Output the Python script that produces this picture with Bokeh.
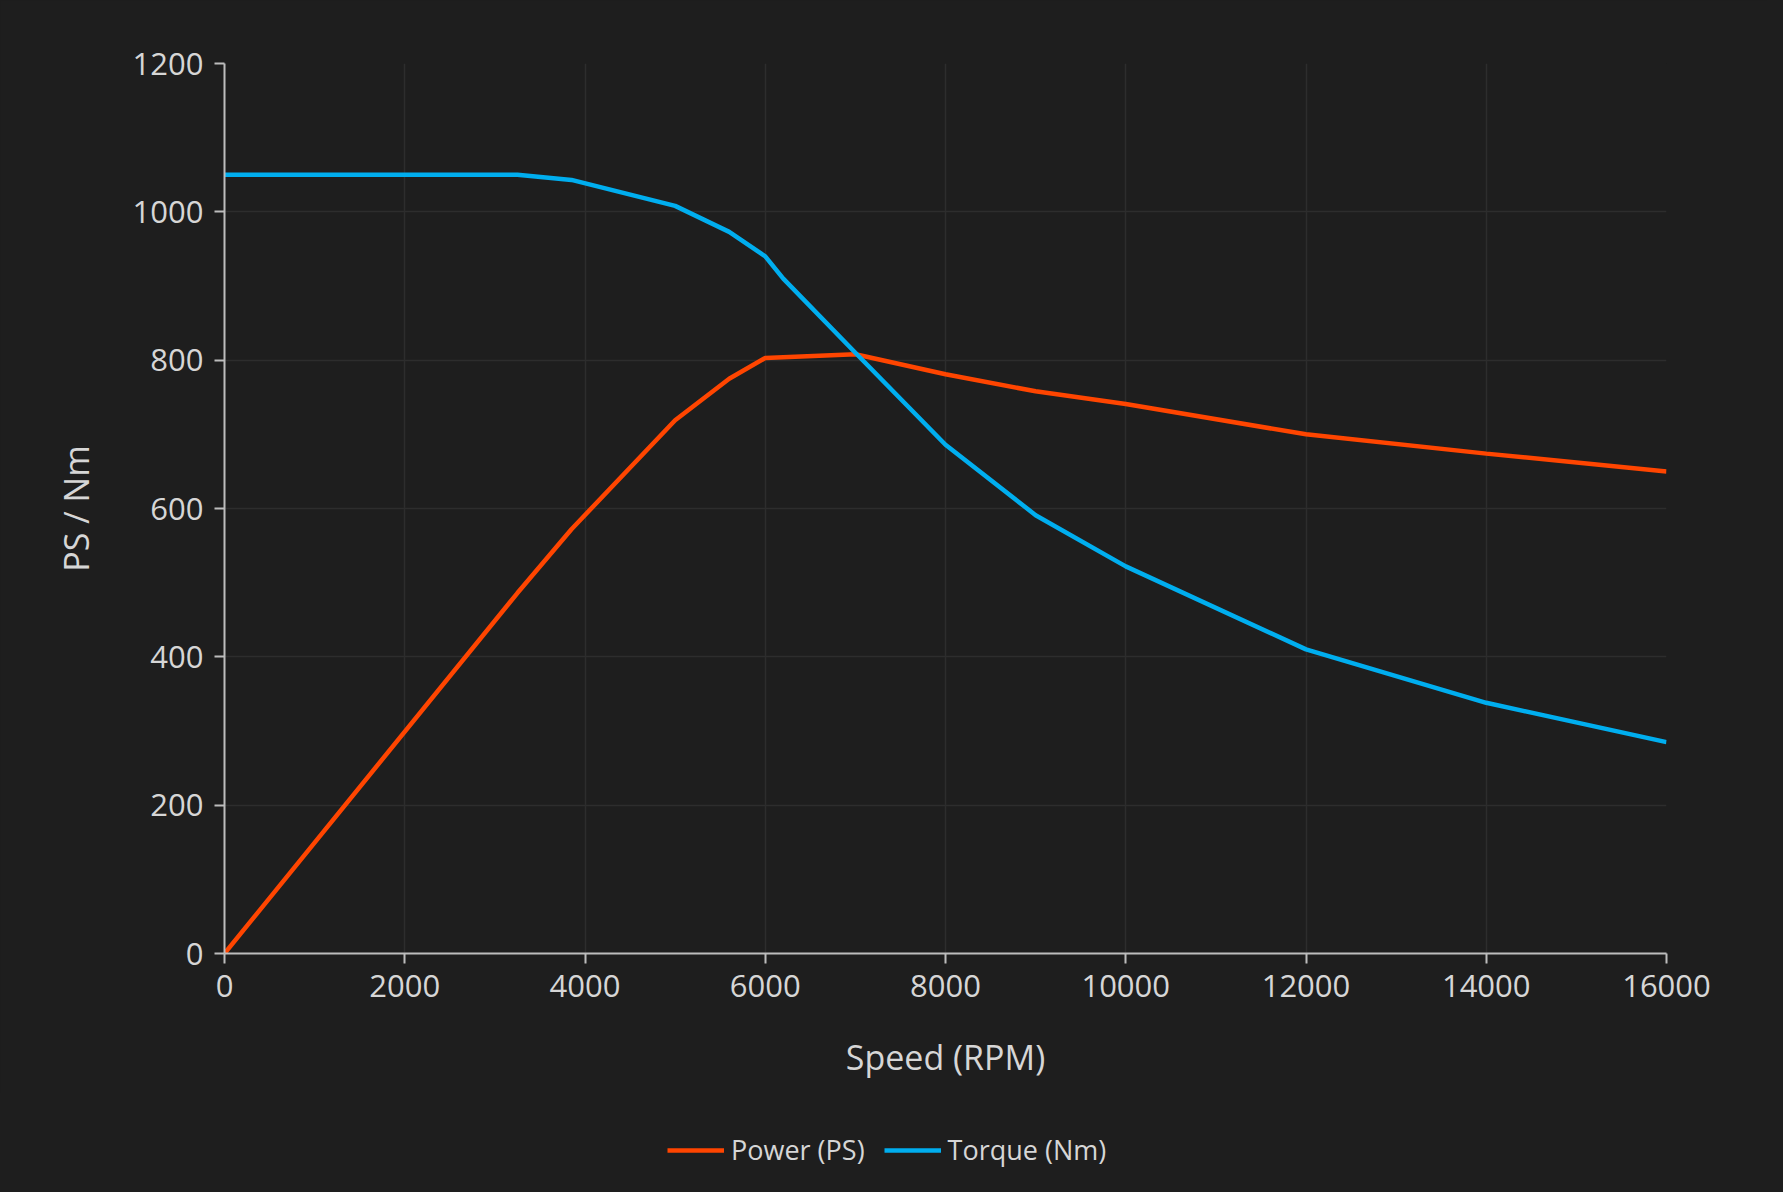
from bokeh.plotting import figure
from bokeh.layouts import column
from bokeh.models import Range1d, SingleIntervalTicker, Legend, LegendItem
from bokeh.embed import file_html
from bokeh.resources import INLINE

# Data
rpm_torque = [0, 3250, 3850, 5000, 5600, 6000, 6200, 7000, 8000, 9000, 10000, 12000, 14000, 16000]
torque_nm = [1050, 1050, 1043, 1008, 973, 940, 910, 810, 686, 591, 522, 410, 338, 285]

rpm_power = [0, 3250, 3850, 5000, 5600, 6000, 7000, 8000, 9000, 10000, 12000, 14000, 16000]
power_ps = [0, 486, 572, 719, 775, 803, 808, 781, 758, 741, 700, 674, 650]

x_title = "Speed (RPM)"
y_title = "PS / Nm"
power_label = "Power (PS)"
torque_label = "Torque (Nm)"

BG = "#1e1e1e"
TXT = "#d6d6d6"
FONT = "Open Sans"
POWER_C = "#ff4500"
TORQUE_C = "#00aeef"
LW = 4.5

p = figure(frame_width=1442, frame_height=890, output_backend="svg", toolbar_location=None,
           x_range=Range1d(0, 16000), y_range=Range1d(0, 1200),
           min_border_left=224, min_border_right=101, min_border_top=63, min_border_bottom=140)

p.background_fill_color = BG
p.border_fill_color = BG
p.outline_line_color = None

p.line(rpm_power, power_ps, line_color=POWER_C, line_width=LW)
p.line(rpm_torque, torque_nm, line_color=TORQUE_C, line_width=LW)

p.xaxis.ticker = SingleIntervalTicker(interval=2000)
p.yaxis.ticker = SingleIntervalTicker(interval=200)
p.xaxis.axis_label = x_title
p.yaxis.axis_label = y_title

for ax in (p.xaxis, p.yaxis):
    ax.axis_line_color = "#bdbdbd"
    ax.axis_line_width = 2
    ax.major_tick_line_color = "#bdbdbd"
    ax.major_tick_line_width = 2
    ax.major_tick_out = 10
    ax.major_tick_in = 0
    ax.minor_tick_line_color = None
    ax.major_label_text_color = TXT
    ax.major_label_text_font = FONT
    ax.major_label_text_font_size = "31px"
    ax.axis_label_text_color = TXT
    ax.axis_label_text_font = FONT
    ax.axis_label_text_font_size = "34px"
    ax.axis_label_text_font_style = "normal"
    ax.major_label_standoff = 11

p.xaxis.axis_label_standoff = 34
p.yaxis.axis_label_standoff = 31

p.xgrid.grid_line_color = "#2d2d2d"
p.ygrid.grid_line_color = "#2d2d2d"
p.xgrid.grid_line_width = 1.5
p.ygrid.grid_line_width = 1.5

# legend strip below the chart (its series lie outside its empty view)
leg_h = 1176 - (63 + 890 + 140)
lf = figure(width=1767, height=leg_h, output_backend="svg", toolbar_location=None,
            x_axis_type=None, y_axis_type=None, min_border=0,
            x_range=Range1d(-2, -1), y_range=Range1d(-2, -1))
lf.background_fill_color = None
lf.border_fill_color = None
lf.outline_line_color = None
lp = lf.line(rpm_power, power_ps, line_color=POWER_C, line_width=LW)
lt = lf.line(rpm_torque, torque_nm, line_color=TORQUE_C, line_width=LW)

legend = Legend(items=[LegendItem(label=power_label, renderers=[lp]),
                       LegendItem(label=torque_label, renderers=[lt])],
                orientation="horizontal", location=(443, 8))
legend.background_fill_alpha = 0
legend.border_line_color = None
legend.label_text_color = TXT
legend.label_text_font = FONT
legend.label_text_font_size = "27px"
legend.glyph_width = 57
legend.glyph_height = 30
legend.label_standoff = 7
legend.spacing = 19
legend.margin = 0
legend.padding = 0
lf.add_layout(legend, "center")

page = column(p, lf, spacing=0)

html = file_html(page, INLINE)
html = html.replace("</head>", "<style>html, body { background-color: #1e1e1e !important; }</style></head>", 1)
open("out.html", "w").write(html)
